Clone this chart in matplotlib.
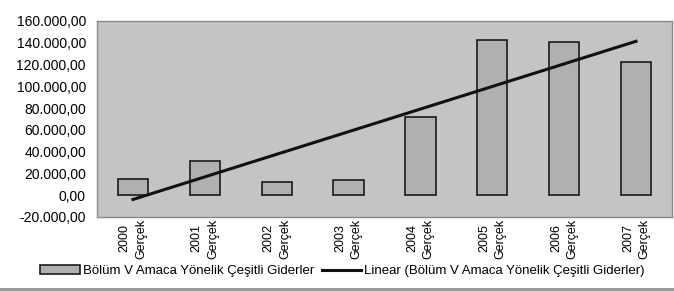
import matplotlib
matplotlib.use("Agg")
import matplotlib.pyplot as plt
from matplotlib.ticker import FuncFormatter, MultipleLocator
from matplotlib.patches import Patch
from matplotlib.lines import Line2D
import numpy as np

plt.rcParams['font.family'] = ['Liberation Sans', 'DejaVu Sans']

# Data
years = ["2000", "2001", "2002", "2003", "2004", "2005", "2006", "2007"]
giderler = [14600, 31700, 12400, 14200, 72100, 142500, 140400, 122000]
series_name = "Bölüm V Amaca Yönelik Çeşitli Giderler"
tick_labels = [y + "\nGerçek" for y in years]


def tr_format(v, pos):
    # Turkish number format: 140.000,00
    s = "{:,.2f}".format(v)
    return s.replace(",", "X").replace(".", ",").replace("X", ".")


fig = plt.figure(figsize=(6.74, 2.91), dpi=100)
fig.patch.set_facecolor("white")
ax = fig.add_axes([97 / 674, 1 - 217 / 291, (672 - 97) / 674, (217 - 21) / 291])
ax.set_facecolor("#c4c4c4")

x = np.arange(len(years))
ax.bar(x, giderler, width=0.42, color="#b0b0b0", edgecolor="#1a1a1a", linewidth=1.2, zorder=2)

# Linear trend line (least squares, like Excel's trendline)
coef = np.polyfit(x, giderler, 1)
ax.plot(x, np.polyval(coef, x), color="#111111", linewidth=2.2, zorder=3)

ax.set_xlim(-0.5, len(years) - 0.5)
ax.set_ylim(-20000, 160000)
ax.yaxis.set_major_locator(MultipleLocator(20000))
ax.yaxis.set_major_formatter(FuncFormatter(tr_format))
ax.set_xticks(x)
ax.set_xticklabels(tick_labels, rotation=90, fontsize=9, linespacing=1.5)
ax.tick_params(axis="y", labelsize=10, length=0, pad=8)
ax.tick_params(axis="x", length=0, pad=1)
for s in ax.spines.values():
    s.set_color("#8a8a8a")
    s.set_linewidth(1.0)

handles = [Patch(facecolor="#b0b0b0", edgecolor="#1a1a1a", linewidth=1.2),
           Line2D([0], [0], color="#111111", linewidth=2.2)]
labels = [series_name, "Linear (" + series_name + ")"]
fig.legend(handles, labels, loc="center", bbox_to_anchor=(0.508, 1 - 271 / 291),
           ncol=2, frameon=False, fontsize=9.5, handlelength=3.0,
           handletextpad=0.2, columnspacing=0.6)

# thin gray strip along bottom border
fig.add_artist(plt.Rectangle((0, 0), 1, 3 / 291, transform=fig.transFigure,
                             color="#9a9a9a", lw=0))

fig.savefig("out.png", dpi=100)
